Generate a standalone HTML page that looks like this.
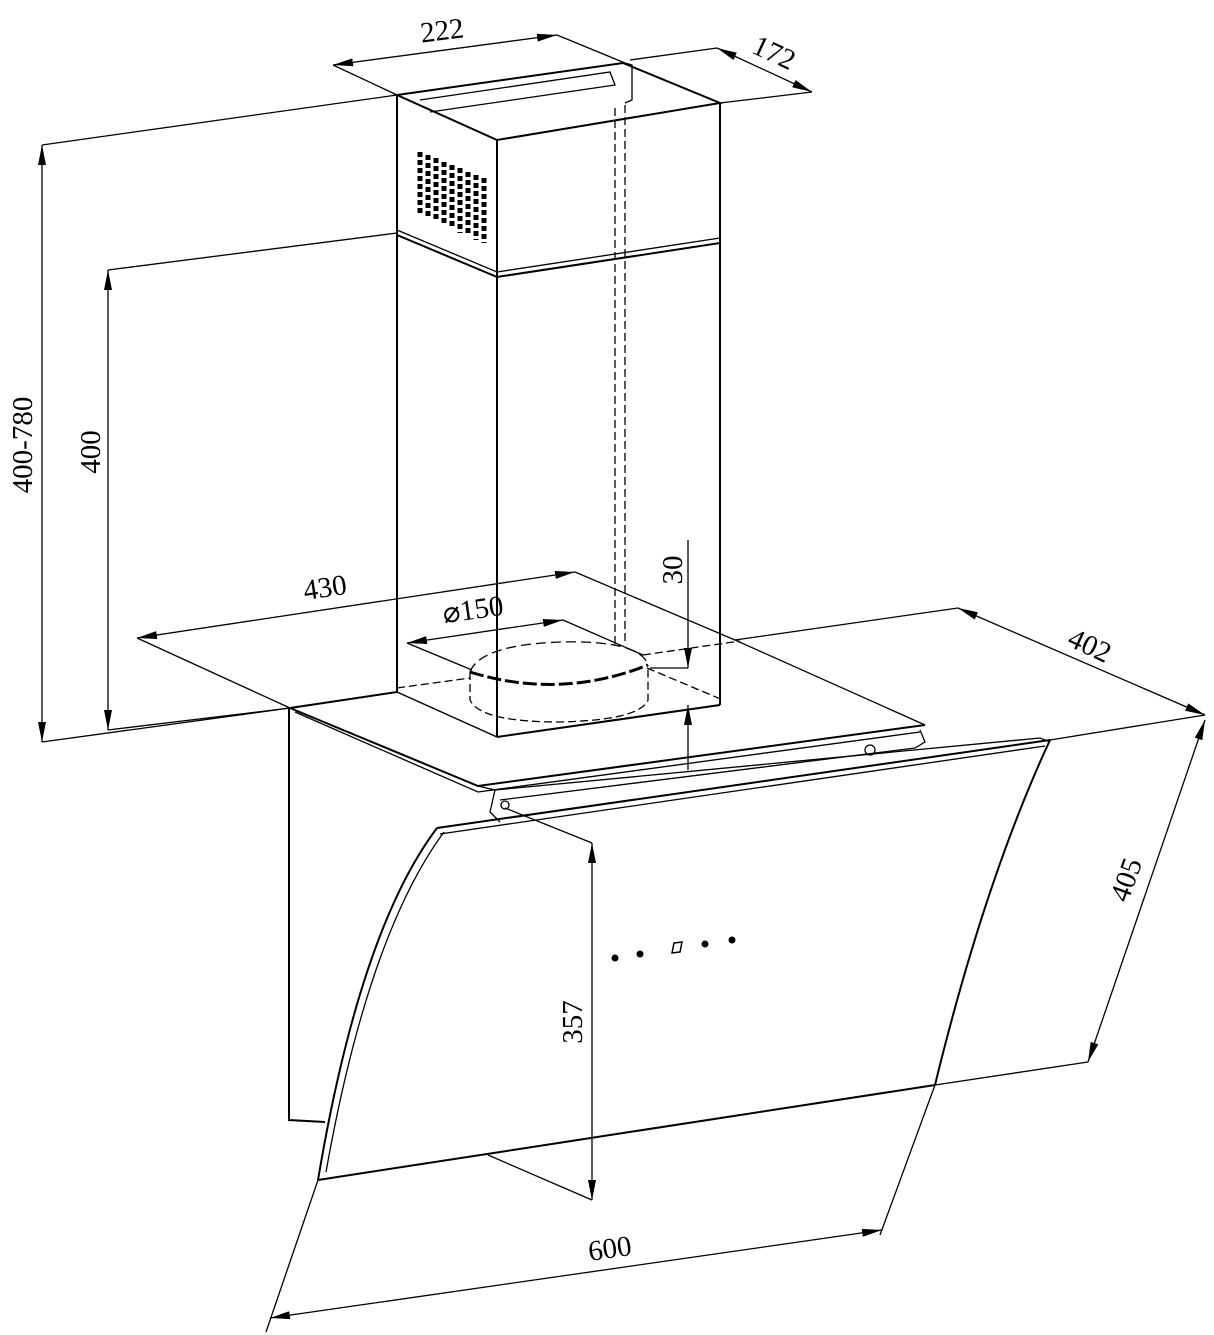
<!DOCTYPE html>
<html><head><meta charset="utf-8"><style>
html,body{margin:0;padding:0;background:#fff;}
svg{display:block;}
text{font-family:"Liberation Serif",serif;font-size:29px;fill:#000;}
</style></head><body>
<svg width="1214" height="1335" viewBox="0 0 1214 1335" xmlns="http://www.w3.org/2000/svg">
<defs>
<marker id="a" viewBox="0 0 20 8" refX="20" refY="4" markerWidth="20" markerHeight="8" markerUnits="userSpaceOnUse" orient="auto-start-reverse"><path d="M0,0 L20,4 L0,8 z" fill="#000"/></marker>
</defs>
<g stroke="#000" stroke-width="1.3" fill="none">
<!-- chimney upper -->
<polygon points="397,95 623,63 720,103 497,140" stroke-width="2"/>
<line x1="397" y1="95" x2="397" y2="692" stroke-width="2"/>
<line x1="497" y1="140" x2="497" y2="737" stroke-width="2"/>
<line x1="720" y1="103" x2="720" y2="705" stroke-width="2"/>
<polyline points="397,235 497,277 720,243" stroke-width="2"/>
<polyline points="397,230 497,272 720,238"/>
<line x1="497" y1="737" x2="720" y2="705" stroke-width="2"/>
<polyline points="420,100 610,72 615,85 430,112"/>
<polyline points="625,63 632,65 632,100 625,103"/>
<!-- grille -->
<g stroke-width="5" stroke-dasharray="5,3">
<line x1="420" y1="152" x2="420" y2="215"/><line x1="428" y1="155" x2="428" y2="218"/>
<line x1="436" y1="158" x2="436" y2="222"/><line x1="444" y1="162" x2="444" y2="226"/>
<line x1="452" y1="165" x2="452" y2="229"/><line x1="460" y1="168" x2="460" y2="233"/>
<line x1="468" y1="172" x2="468" y2="236"/><line x1="476" y1="175" x2="476" y2="240"/>
<line x1="484" y1="178" x2="484" y2="243"/>
</g>
<!-- dashed pipe -->
<line x1="615" y1="108" x2="615" y2="645" stroke-dasharray="8,4"/>
<line x1="625" y1="105" x2="625" y2="643" stroke-dasharray="8,4"/>
<!-- base plate -->
<polyline points="575,572 735,640 925,725" stroke-width="1.3"/>
<line x1="290" y1="708" x2="397" y2="692" stroke-width="2"/>
<line x1="397" y1="692" x2="497" y2="737" stroke-width="1.5"/>
<polyline points="290,708 478,786 925,725" stroke-width="2"/>
<polyline points="295,712 478,792 920,732"/>
<line x1="397" y1="688" x2="470" y2="678" stroke-dasharray="8,4"/>
<line x1="643" y1="655" x2="740" y2="641" stroke-dasharray="8,4"/>
<line x1="647" y1="668" x2="723" y2="700" stroke-dasharray="8,4"/>
<line x1="407" y1="643" x2="472" y2="670"/>
<line x1="563" y1="620" x2="643" y2="655"/>
<!-- cylinder -->
<path d="M470,672 Q480,645 560,642 Q640,640 648,665" stroke-dasharray="10,5"/>
<path d="M470,672 L470,700 Q480,722 560,722 Q640,720 648,700 L648,665" stroke-dasharray="8,4"/>
<path d="M470,672 Q560,700 648,665" stroke-width="3" stroke-dasharray="14,4"/>
<!-- hinge details -->
<polyline points="478,786 495,790 490,812 500,822"/>
<polyline points="495,790 1040,738 1050,742"/>
<polyline points="500,800 915,748 925,742 920,730"/>
<circle cx="870" cy="750" r="5"/><circle cx="505" cy="805" r="4"/>
<!-- back panel -->
<polyline points="289,708 289,1120 325,1122" stroke-width="2"/>
<!-- glass -->
<path d="M437,828 L1050,740" stroke-width="2"/>
<path d="M440,834 L1045,746" />
<path d="M1050,740 Q985,880 935,1085" stroke-width="2"/>
<path d="M935,1085 L318,1180" stroke-width="2"/>
<path d="M437,828 Q360,930 318,1180" stroke-width="2"/>
<path d="M444,832 Q368,935 326,1172"/>
<!-- dimensions -->
<line x1="333" y1="65" x2="557" y2="35" marker-start="url(#a)" marker-end="url(#a)"/>
<line x1="333" y1="65" x2="397" y2="95"/><line x1="557" y1="35" x2="625" y2="63"/>
<line x1="717" y1="48" x2="812" y2="92" marker-start="url(#a)" marker-end="url(#a)"/>
<line x1="630" y1="60" x2="717" y2="48"/><line x1="720" y1="103" x2="812" y2="92"/>
<line x1="42" y1="145" x2="42" y2="742" marker-start="url(#a)" marker-end="url(#a)"/>
<line x1="42" y1="145" x2="397" y2="95"/><line x1="42" y1="742" x2="290" y2="708"/>
<line x1="108" y1="270" x2="108" y2="730" marker-start="url(#a)" marker-end="url(#a)"/>
<line x1="108" y1="270" x2="397" y2="233"/><line x1="108" y1="730" x2="290" y2="708"/>
<line x1="137" y1="638" x2="575" y2="572" marker-start="url(#a)" marker-end="url(#a)"/>
<line x1="137" y1="638" x2="290" y2="708"/>
<line x1="407" y1="643" x2="563" y2="620" marker-start="url(#a)" marker-end="url(#a)"/>
<line x1="688" y1="540" x2="688" y2="668" marker-end="url(#a)"/>
<line x1="650" y1="668" x2="688" y2="668"/>
<line x1="688" y1="770" x2="688" y2="705" marker-end="url(#a)"/>
<line x1="958" y1="608" x2="1205" y2="715" marker-start="url(#a)" marker-end="url(#a)"/>
<line x1="735" y1="640" x2="958" y2="608"/><line x1="1050" y1="740" x2="1205" y2="715"/>
<line x1="1205" y1="720" x2="1088" y2="1062" marker-start="url(#a)" marker-end="url(#a)"/>
<line x1="935" y1="1085" x2="1088" y2="1062"/>
<line x1="592" y1="843" x2="592" y2="1200" marker-start="url(#a)" marker-end="url(#a)"/>
<line x1="505" y1="808" x2="592" y2="843"/><line x1="488" y1="1155" x2="592" y2="1200"/>
<line x1="270" y1="1318" x2="882" y2="1230" marker-start="url(#a)" marker-end="url(#a)"/>
<line x1="318" y1="1180" x2="266" y2="1332"/><line x1="935" y1="1085" x2="880" y2="1235"/>
</g>
<!-- buttons -->
<g fill="#000"><circle cx="615" cy="958" r="3.5"/><circle cx="640" cy="954" r="3.5"/>
<circle cx="705" cy="944" r="3.5"/><circle cx="732" cy="940" r="3.5"/></g>
<polygon points="674,943 682,942 680,952 672,953" fill="none" stroke="#000" stroke-width="1.5"/>
<!-- labels -->
<text x="442" y="40" transform="rotate(-7 442 30)" text-anchor="middle">222</text>
<text x="773" y="62" transform="rotate(25 773 55)" text-anchor="middle">172</text>
<text x="32" y="445" transform="rotate(-90 32 445)" text-anchor="middle">400-780</text>
<text x="100" y="452" transform="rotate(-90 100 452)" text-anchor="middle">400</text>
<text x="325" y="597" transform="rotate(-8.5 325 588)" text-anchor="middle">430</text>
<text x="473" y="619" transform="rotate(-8 473 610)" text-anchor="middle">⌀150</text>
<text x="682" y="570" transform="rotate(-90 682 570)" text-anchor="middle">30</text>
<text x="1090" y="655" transform="rotate(25 1090 645)" text-anchor="middle">402</text>
<text x="1135" y="883" transform="rotate(-70 1135 883)" text-anchor="middle">405</text>
<text x="582" y="1022" transform="rotate(-90 582 1022)" text-anchor="middle">357</text>
<text x="610" y="1258" transform="rotate(-8 610 1250)" text-anchor="middle">600</text>
</svg>
</body></html>
